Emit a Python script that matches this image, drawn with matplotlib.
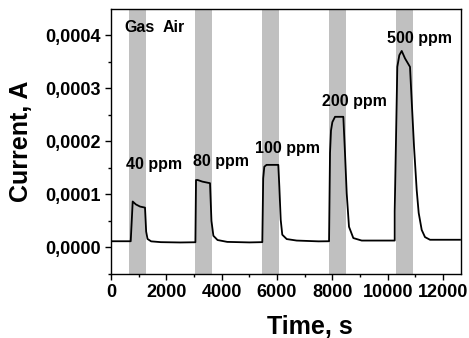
import matplotlib
matplotlib.use("Agg")
import matplotlib.pyplot as plt
from matplotlib.ticker import MultipleLocator, FuncFormatter

plt.rcParams['font.family'] = ['Liberation Sans', 'DejaVu Sans']
plt.rcParams['font.weight'] = 'bold'

# sensor response (time in s, current in A)
time = [0, 712, 784, 900, 1050, 1229, 1270, 1320, 1450, 1800, 2500, 3050,
        3072, 3133, 3300, 3578, 3630, 3700, 3850, 4200, 5000, 5468,
        5500, 5540, 5620, 6046, 6083, 6133, 6190, 6350, 6710, 7500, 7880,
        7915, 7950, 8000, 8096, 8396, 8457, 8518, 8601, 8757, 9060, 10253,
        10253, 10347, 10420, 10506, 10625, 10806, 10878, 10951, 11048,
        11120, 11229, 11348, 11529, 12612]
current = [1.17e-5, 1.17e-5, 8.65e-5, 8.1e-5, 7.7e-5, 7.5e-5, 3.0e-5, 1.6e-5,
           1.15e-5, 1.0e-5, 9.4e-6, 9.8e-6,
           1.27e-4, 1.27e-4, 1.24e-4, 1.21e-4, 5.0e-5, 2.2e-5, 1.4e-5, 1.05e-5,
           9.5e-6, 1.0e-5,
           1.3e-4, 1.52e-4, 1.555e-4, 1.555e-4, 1.15e-4, 5.2e-5, 2.4e-5,
           1.58e-5, 1.3e-5, 1.15e-5, 1.17e-5,
           1.78e-4, 2.2e-4, 2.36e-4, 2.46e-4, 2.46e-4, 1.77e-4, 1.02e-4,
           3.9e-5, 1.77e-5, 1.3e-5, 1.3e-5,
           6.8e-5, 3.40e-4, 3.62e-4, 3.70e-4, 3.56e-4, 3.40e-4, 2.65e-4,
           1.90e-4, 1.08e-4, 6.5e-5, 3.3e-5, 1.95e-5, 1.45e-5, 1.45e-5]

# gas exposure windows
gas_start = [661, 3036, 5457, 7879, 10300]
gas_end = [1265, 3661, 6083, 8493, 10914]

labels = ["40 ppm", "80 ppm", "100 ppm", "200 ppm", "500 ppm"]
label_t = [1566, 3975, 6373, 8789, 11156]
label_i = [1.57e-4, 1.62e-4, 1.87e-4, 2.75e-4, 3.94e-4]

fig = plt.figure(figsize=(4.69, 3.38), dpi=100)
ax = fig.add_axes([0.2367, 0.1893, 0.7463, 0.7841])

for s, e in zip(gas_start, gas_end):
    ax.axvspan(s, e, color='#c0c0c0', lw=0, zorder=0)

ax.plot(time, current, color='black', lw=1.3, zorder=2)

for lab, t, i in zip(labels, label_t, label_i):
    ax.text(t, i, lab, ha='center', va='center', fontsize=11.5, fontweight='bold')
ax.text(1012, 4.14e-4, "Gas", ha='center', va='center', fontsize=11.5, fontweight='bold')
ax.text(2277, 4.14e-4, "Air", ha='center', va='center', fontsize=11.5, fontweight='bold')

ax.set_xlim(0, 12650)
ax.set_ylim(-0.00005, 0.000449)
ax.xaxis.set_major_locator(MultipleLocator(2000))
ax.xaxis.set_minor_locator(MultipleLocator(1000))
ax.yaxis.set_major_locator(MultipleLocator(0.0001))
ax.yaxis.set_minor_locator(MultipleLocator(0.00005))
ax.yaxis.set_major_formatter(FuncFormatter(lambda v, p: ("%.4f" % v).replace('.', ',').replace('-0,0000', '0,0000')))

ax.tick_params(which='major', direction='out', length=4, width=1, labelsize=13)
ax.tick_params(which='minor', direction='out', length=2.5, width=1)
for lab in ax.get_xticklabels() + ax.get_yticklabels():
    lab.set_fontweight('bold')
for sp in ax.spines.values():
    sp.set_linewidth(1)

ax.set_xlabel("Time, s", fontsize=18, fontweight='bold')
ax.set_ylabel("Current, A", fontsize=18, fontweight='bold')
ax.xaxis.set_label_coords(0.567, -0.155)
ax.xaxis.label.set_va('top')
ax.yaxis.set_label_coords(-0.222, 0.5)

fig.savefig("out.png", dpi=100)
